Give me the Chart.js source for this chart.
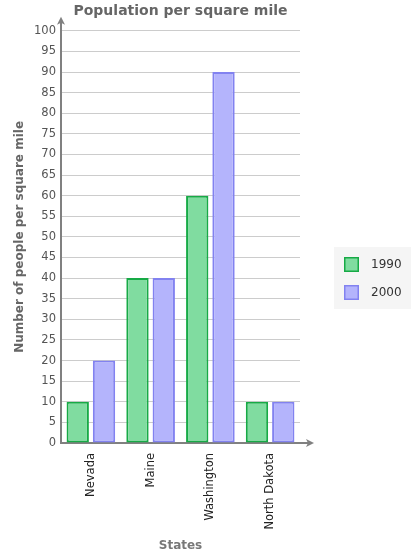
<!DOCTYPE html>
<html lang="en">
  <head>
    <meta charset="utf-8" />
    <title>Population per square mile</title>
    <style>
      * {
        margin: 0;
        padding: 0;
      }
      body {
        background: #ffffff;
      }
      .chartBox {
        width: 420px;
        height: 555px;
      }
    </style>
  </head>
  <body>
    <div class="chartBox">
      <canvas id="myChart"></canvas>
    </div>

    <script src="https://cdn.jsdelivr.net/npm/chart.js"></script>

    <script>
      // data block
      const states = ["Nevada", "Maine", "Washington", "North Dakota"];
      const seriesNames = ["1990", "2000"];
      const values1990 = [10, 40, 60, 10];
      const values2000 = [20, 40, 90, 10];
      const yTicks = [0, 5, 10, 15, 20, 25, 30, 35, 40, 45, 50, 55, 60, 65, 70, 75, 80, 85, 90, 95, 100];

      const FONT = "'DejaVu Sans', Verdana, sans-serif";

      const data = {
        labels: states,
        datasets: [
          {
            label: seriesNames[0],
            data: values1990,
            backgroundColor: "#80dca0",
            borderColor: "#17aa46",
            borderWidth: 2,
            borderSkipped: false,
          },
          {
            label: seriesNames[1],
            data: values2000,
            backgroundColor: "#b4b4fc",
            borderColor: "#8282f0",
            borderWidth: 2,
            borderSkipped: false,
          },
        ],
      };

      // arrow heads on both axes
      const axisArrows = {
        id: "axisArrows",
        afterDraw(chart) {
          const { ctx, chartArea: { left, right, top, bottom } } = chart;
          ctx.save();
          ctx.strokeStyle = "#808080";
          ctx.fillStyle = "#808080";
          ctx.lineWidth = 2;
          ctx.beginPath();
          ctx.moveTo(left, top);
          ctx.lineTo(left, top - 10);
          ctx.moveTo(right, bottom);
          ctx.lineTo(right + 10, bottom);
          ctx.stroke();
          // up arrow
          ctx.beginPath();
          ctx.moveTo(left, top - 14);
          ctx.lineTo(left - 4, top - 6);
          ctx.lineTo(left, top - 8);
          ctx.lineTo(left + 4, top - 6);
          ctx.closePath();
          ctx.fill();
          // right arrow
          ctx.beginPath();
          ctx.moveTo(right + 14, bottom);
          ctx.lineTo(right + 6, bottom - 4);
          ctx.lineTo(right + 8, bottom);
          ctx.lineTo(right + 6, bottom + 4);
          ctx.closePath();
          ctx.fill();
          ctx.restore();
        },
      };

      // legend box on the right, with a light grey panel
      const sideLegend = {
        id: "sideLegend",
        afterDraw(chart) {
          const { ctx, chartArea: { right } } = chart;
          const x0 = right + 34;
          const y0 = 247;
          ctx.save();
          ctx.fillStyle = "#f5f5f5";
          ctx.fillRect(x0, y0, 77, 62);
          ctx.font = `12px ${FONT}`;
          ctx.textBaseline = "middle";
          chart.data.datasets.forEach((ds, i) => {
            const y = y0 + 10 + i * 28;
            ctx.fillStyle = ds.backgroundColor;
            ctx.fillRect(x0 + 10, y, 15, 15);
            ctx.strokeStyle = ds.borderColor;
            ctx.lineWidth = 1.5;
            ctx.strokeRect(x0 + 10.75, y + 0.75, 13.5, 13.5);
            ctx.fillStyle = "#333333";
            ctx.fillText(ds.label, x0 + 37, y + 7.5);
          });
          ctx.restore();
        },
      };

      // config block
      const config = {
        type: "bar",
        data: data,
        options: {
          responsive: true,
          maintainAspectRatio: false,
          animation: false,
          layout: {
            padding: { top: 0, right: 120, bottom: 0, left: 0 },
          },
          datasets: {
            bar: {
              categoryPercentage: 0.88,
              barPercentage: 0.85,
            },
          },
          plugins: {
            legend: { display: false },
            tooltip: { enabled: false },
            title: {
              display: true,
              text: "Population per square mile",
              fullSize: false,
              color: "#666666",
              font: { family: FONT, size: 14, weight: "bold" },
              padding: { top: 3, bottom: 11 },
            },
          },
          scales: {
            x: {
              grid: { display: false },
              border: { color: "#808080", width: 2 },
              ticks: {
                color: "#222222",
                font: { family: FONT, size: 11.5 },
                minRotation: 90,
                maxRotation: 90,
                padding: 2,
              },
              title: {
                display: true,
                text: "States",
                color: "#777777",
                font: { family: FONT, size: 12, weight: "bold" },
                padding: { top: 0, bottom: 2 },
              },
              afterFit(scale) {
                scale.height = 112;
              },
            },
            y: {
              min: 0,
              max: 100,
              afterBuildTicks(scale) {
                scale.ticks = yTicks.map((v) => ({ value: v }));
              },
              grid: {
                color: "#cccccc",
                lineWidth: 1,
                drawTicks: false,
              },
              border: { color: "#808080", width: 2 },
              ticks: {
                color: "#555555",
                font: { family: FONT, size: 11.5 },
                padding: 5,
              },
              title: {
                display: true,
                text: "Number of people per square mile",
                color: "#666666",
                font: { family: FONT, size: 12, weight: "bold" },
                padding: { top: 13, bottom: 0 },
              },
              afterFit(scale) {
                scale.width = 61;
              },
            },
          },
        },
        plugins: [axisArrows, sideLegend],
      };

      // init render block
      const myChart = new Chart(document.getElementById("myChart"), config);
    </script>
  </body>
</html>
